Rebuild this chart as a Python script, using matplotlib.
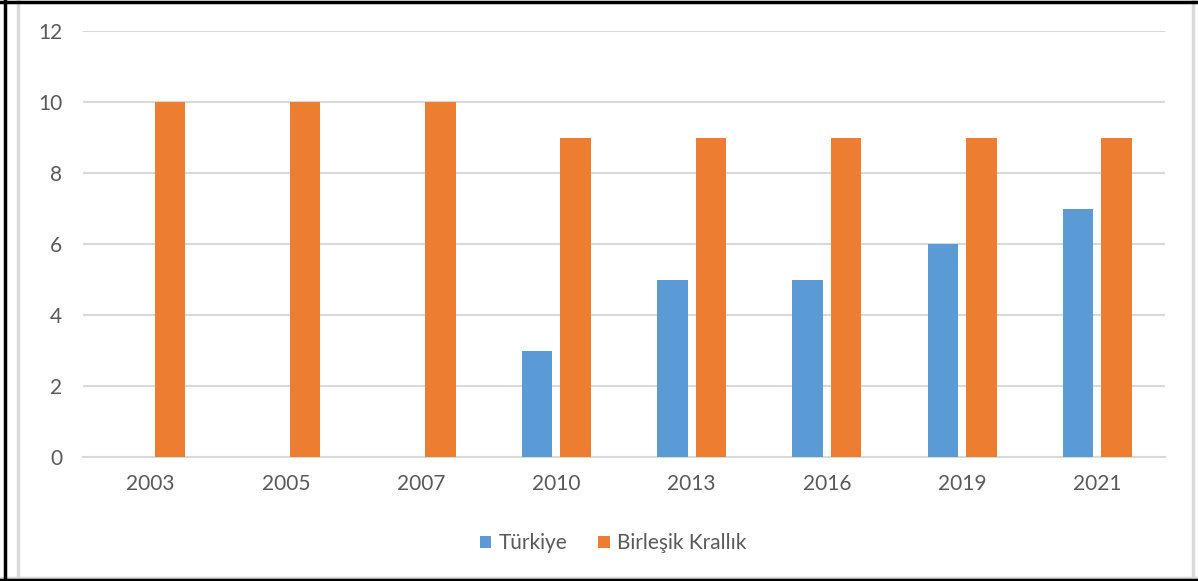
import numpy as np
import matplotlib.pyplot as plt
from matplotlib.lines import Line2D

years = ['2003', '2005', '2007', '2010', '2013', '2016', '2019', '2021']
turkiye = [0, 0, 0, 3, 5, 5, 6, 7]
birlesik_krallik = [10, 10, 10, 9, 9, 9, 9, 9]

plt.rcParams['font.family'] = ['Lato', 'DejaVu Sans']

W, H = 1198, 581
fig = plt.figure(figsize=(W / 100, H / 100), dpi=100)
ax = fig.add_axes([83 / W, 1 - 457 / H, (1165 - 83) / W, (457 - 31) / H])

x = np.arange(len(years))
bw = 0.225
gap = 0.06
ax.bar(x - (bw + gap) / 2, turkiye, bw, color='#5B9BD5', label='Türkiye', zorder=3)
ax.bar(x + (bw + gap) / 2, birlesik_krallik, bw, color='#ED7D31', label='Birleşik Krallık', zorder=3)

ax.set_xlim(-0.5, len(years) - 0.5)
ax.set_ylim(0, 12)
ax.set_yticks(range(0, 13, 2))
ax.set_xticks(x)
ax.set_xticklabels(years)
ax.grid(axis='y', color='#D9D9D9', linewidth=1.5, zorder=0)
for s in ['top', 'right', 'left']:
    ax.spines[s].set_visible(False)
ax.spines['bottom'].set_color('#D9D9D9')
ax.spines['bottom'].set_linewidth(1.5)
ax.tick_params(axis='both', length=0, labelsize=15, colors='#595959')
ax.tick_params(axis='x', pad=12)
ax.tick_params(axis='y', pad=15)

leg = ax.legend(loc='upper center', bbox_to_anchor=(0.49, -0.135), ncol=2, frameon=False,
                fontsize=15, handlelength=0.55, handleheight=0.55, handletextpad=0.35,
                columnspacing=1.5, labelcolor='#595959')

# borders around the chart
fig.add_artist(Line2D([18 / W, 18 / W], [0, 1], color='#D9D9D9', lw=2.5, transform=fig.transFigure))
fig.add_artist(Line2D([1193 / W, 1193 / W], [0, 1], color='#D9D9D9', lw=2.5, transform=fig.transFigure))
fig.add_artist(Line2D([0, 1], [1 - 578 / H, 1 - 578 / H], color='#D9D9D9', lw=2.5, transform=fig.transFigure))
fig.add_artist(Line2D([5 / W, 5 / W], [0, 1], color='black', lw=2.5, transform=fig.transFigure))
fig.add_artist(Line2D([0, 1], [1 - 2 / H, 1 - 2 / H], color='black', lw=2.5, transform=fig.transFigure))
fig.add_artist(Line2D([0, 1], [1 - 580 / H, 1 - 580 / H], color='black', lw=2.5, transform=fig.transFigure))

fig.savefig('out.png', dpi=100)
